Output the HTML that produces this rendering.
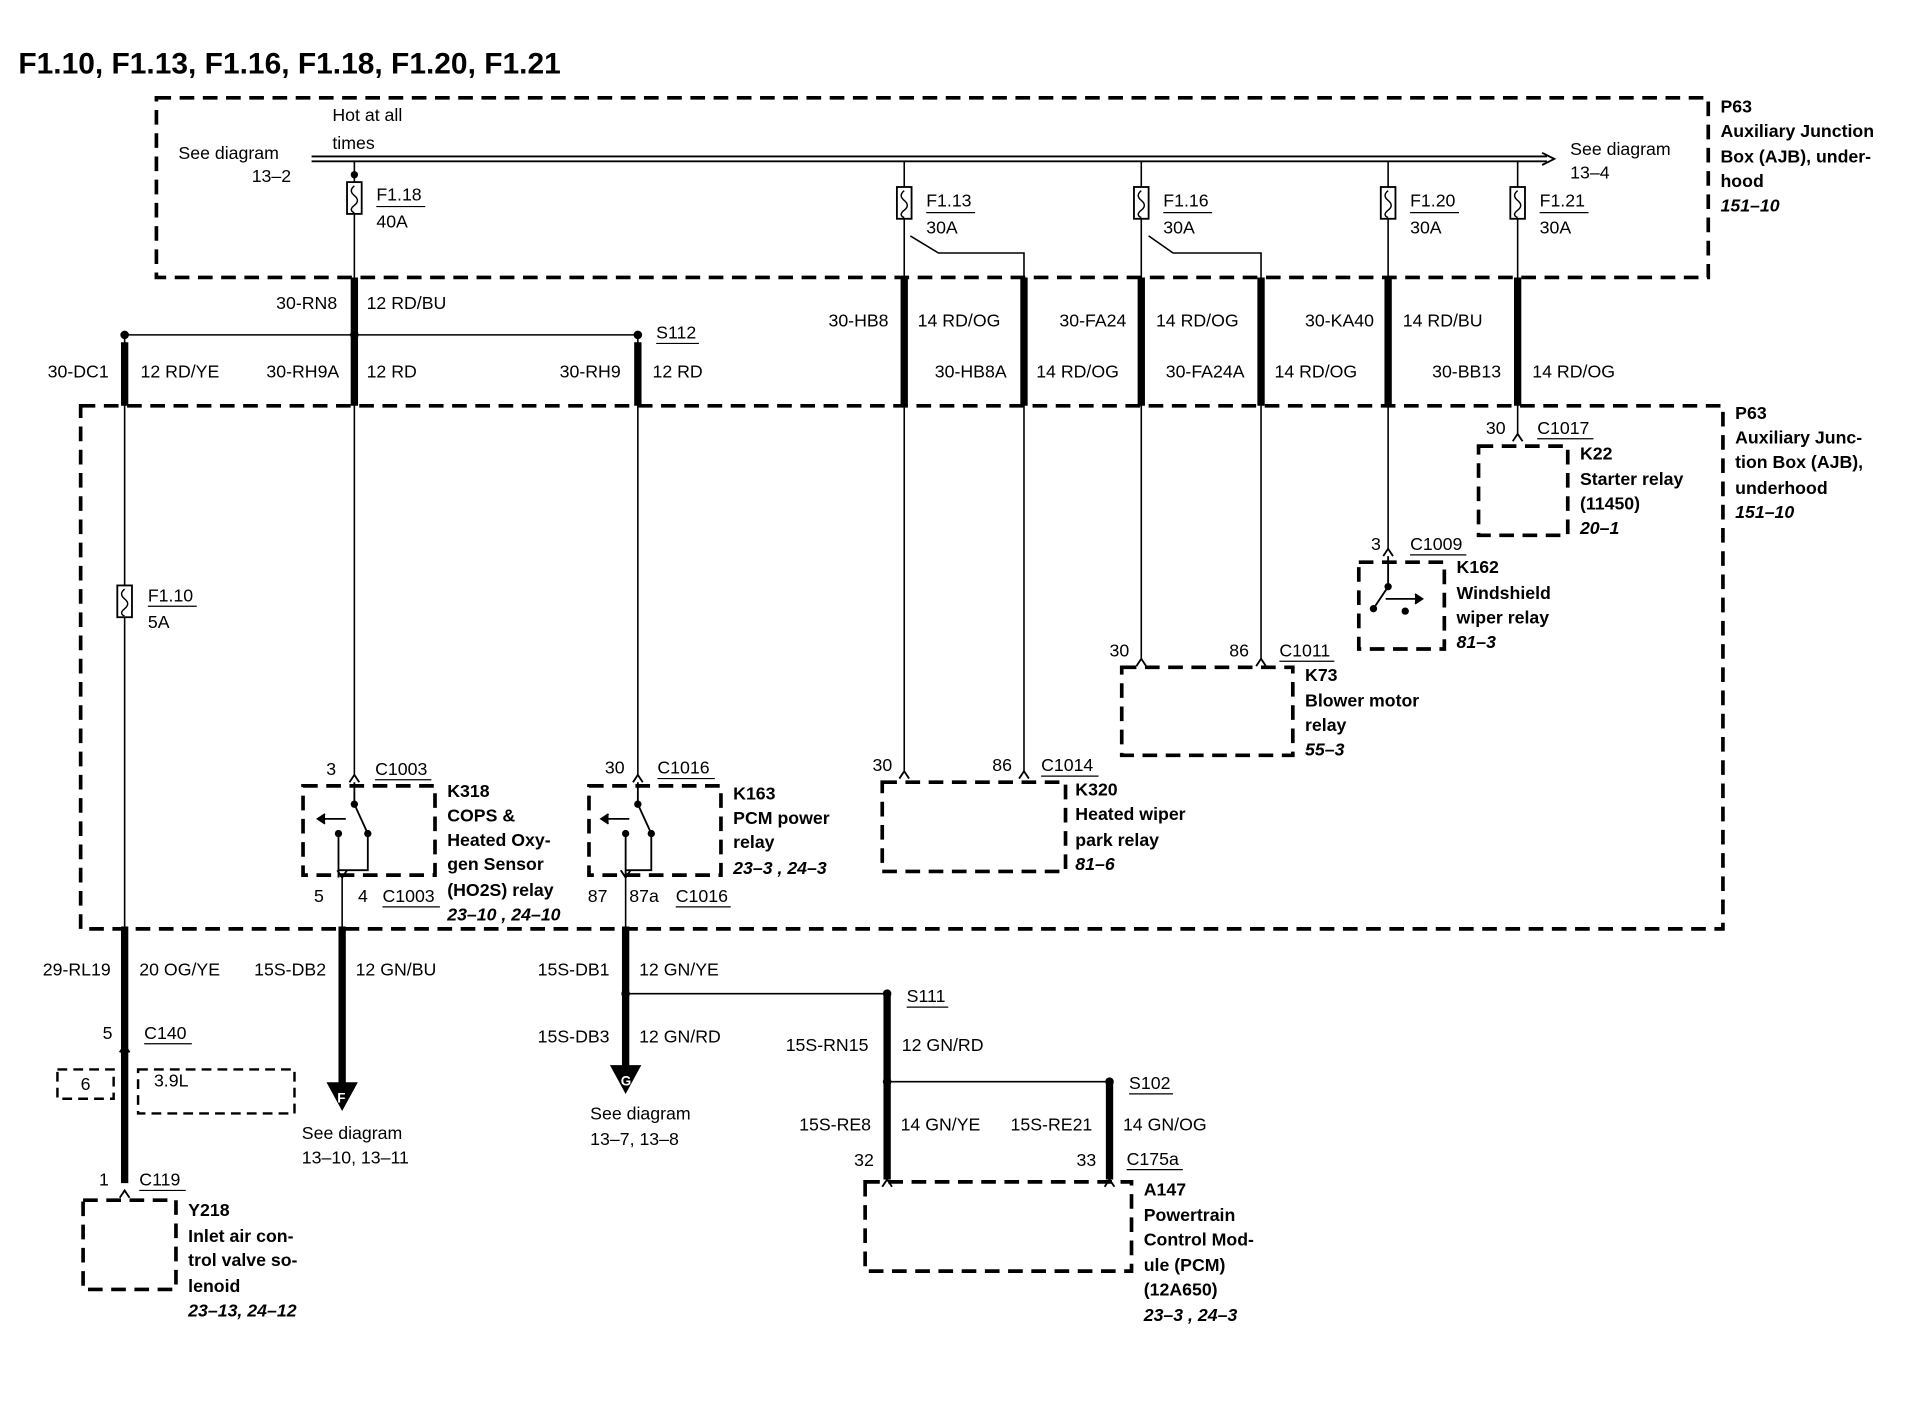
<!DOCTYPE html>
<html><head><meta charset="utf-8"><style>
html,body{margin:0;padding:0;background:#fff;}
svg{display:block;}
text{font-family:"Liberation Sans",Arial,sans-serif;font-size:14.5px;fill:#000;}
.b{font-weight:bold;}
.i{font-weight:bold;font-style:italic;}
.t{font-size:24.5px;font-weight:bold;}
</style></head><body>
<svg width="1916" height="1408" viewBox="0 0 1568 1152" preserveAspectRatio="none" xmlns="http://www.w3.org/2000/svg">
<g fill="none" stroke="#000">
<rect x="128" y="80" width="1270" height="147" stroke-width="3" stroke-dasharray="12,7"/>
<rect x="66" y="332" width="1344" height="428" stroke-width="3" stroke-dasharray="12,7"/>
<line x1="255" y1="128" x2="1266" y2="128" stroke-width="1.5"/>
<line x1="255" y1="132" x2="1266" y2="132" stroke-width="1.5"/>
<line x1="255" y1="130" x2="1266" y2="130" stroke="#fff" stroke-width="2"/>
<path d="M1262,125 L1272,130 L1262,135" stroke-width="1.5"/>
<g stroke-width="1.3">
<line x1="290" y1="132" x2="290" y2="330"/>
<line x1="740" y1="132" x2="740" y2="632"/>
<line x1="934" y1="132" x2="934" y2="540"/>
<line x1="1136" y1="132" x2="1136" y2="450"/>
<line x1="1242" y1="132" x2="1242" y2="356"/>
<path d="M745,193 L768,207 L838,207 L838,632"/>
<path d="M940,193 L960,207 L1032,207 L1032,540"/>
<line x1="102" y1="274" x2="522" y2="274"/>
<line x1="102" y1="274" x2="102" y2="760"/>
<line x1="290" y1="274" x2="290" y2="635"/>
<line x1="522" y1="274" x2="522" y2="635"/>
</g>
<g stroke-width="1.5" fill="#fff">
<rect x="284" y="149" width="12" height="26"/>
<rect x="734" y="153" width="12" height="26"/>
<rect x="928" y="153" width="12" height="26"/>
<rect x="1130" y="153" width="12" height="26"/>
<rect x="1236" y="153" width="12" height="26"/>
<rect x="96" y="479" width="12" height="26"/>
</g>
<g stroke-width="1.2">
<path d="M290,152 q-5,4 0,8 q5,4 0,8 q-5,4 0,6"/>
<path d="M740,156 q-5,4 0,8 q5,4 0,8 q-5,4 0,6"/>
<path d="M934,156 q-5,4 0,8 q5,4 0,8 q-5,4 0,6"/>
<path d="M1136,156 q-5,4 0,8 q5,4 0,8 q-5,4 0,6"/>
<path d="M1242,156 q-5,4 0,8 q5,4 0,8 q-5,4 0,6"/>
<path d="M102,482 q-5,4 0,8 q5,4 0,8 q-5,4 0,6"/>
</g>
<g stroke-width="6">
<line x1="290" y1="227" x2="290" y2="332"/>
<line x1="740" y1="227" x2="740" y2="332"/>
<line x1="838" y1="227" x2="838" y2="332"/>
<line x1="934" y1="227" x2="934" y2="332"/>
<line x1="1032" y1="227" x2="1032" y2="332"/>
<line x1="1136" y1="227" x2="1136" y2="332"/>
<line x1="1242" y1="227" x2="1242" y2="332"/>
<line x1="102" y1="280" x2="102" y2="332"/>
<line x1="522" y1="280" x2="522" y2="332"/>
<line x1="102" y1="758" x2="102" y2="968"/>
<line x1="280" y1="758" x2="280" y2="888"/>
<line x1="512" y1="758" x2="512" y2="874"/>
<line x1="726" y1="813" x2="726" y2="965"/>
<line x1="908" y1="885" x2="908" y2="965"/>
</g>
<g stroke-width="1.3">
<line x1="512" y1="813" x2="726" y2="813"/>
<line x1="726" y1="885" x2="908" y2="885"/>
<line x1="280" y1="715" x2="280" y2="760"/>
<line x1="512" y1="715" x2="512" y2="760"/>
</g>
<path d="M268,886 L292,886 L280,908 Z" fill="#000"/>
<path d="M500,872 L524,872 L512,894 Z" fill="#000"/>
<g stroke-width="1.5">
<path d="M286,640 L290,634 L294,640"/>
<path d="M518,640 L522,634 L526,640"/>
<path d="M736,637 L740,631 L744,637"/>
<path d="M834,637 L838,631 L842,637"/>
<path d="M930,545 L934,539 L938,545"/>
<path d="M1028,545 L1032,539 L1036,545"/>
<path d="M1132,455 L1136,449 L1140,455"/>
<path d="M1238,361 L1242,355 L1246,361"/>
<path d="M98,861 L102,855 L106,861"/>
<path d="M98,980 L102,974 L106,980"/>
<path d="M722,971 L726,965 L730,971"/>
<path d="M904,971 L908,965 L912,971"/>
<path d="M276,712 L280,718 L284,712"/>
<path d="M508,712 L512,718 L516,712"/>
</g>
<g stroke-width="3" stroke-dasharray="12,7">
<rect x="248" y="643" width="108" height="73"/>
<rect x="482" y="643" width="108" height="73"/>
<rect x="722" y="640" width="150" height="73"/>
<rect x="918" y="546" width="140" height="72"/>
<rect x="1112" y="460" width="70" height="71"/>
<rect x="1210" y="365" width="73" height="73"/>
<rect x="68" y="982" width="76" height="73"/>
<rect x="708" y="967" width="218" height="73"/>
<rect x="47" y="875" width="46" height="24" stroke-width="2" stroke-dasharray="8,5"/>
<rect x="113" y="875" width="128" height="36" stroke-width="2" stroke-dasharray="8,5"/>
</g>
<g stroke-width="1.5">
<path d="M290,640 L290,658 L301,682 L301,712 L277,712"/>
<path d="M277,682 L277,718"/>
<path d="M283,670 L262,670"/><path d="M266,666 L260,670 L266,674" fill="#000"/>
<path d="M522,640 L522,658 L533,682 L533,712 L512,712"/>
<path d="M512,682 L512,718"/>
<path d="M515,670 L494,670"/><path d="M498,666 L492,670 L498,674" fill="#000"/>
<path d="M1136,455 L1136,480 L1124,498"/>
<path d="M1134,490 L1162,490"/><path d="M1158,486 L1164,490 L1158,494" fill="#000"/>
</g>
<g fill="#000" stroke="none">
<circle cx="102" cy="274" r="3.5"/><circle cx="290" cy="274" r="3.5"/><circle cx="522" cy="274" r="3.5"/>
<circle cx="290" cy="143" r="3"/>
<circle cx="512" cy="813" r="3.5"/><circle cx="726" cy="813" r="3.5"/>
<circle cx="726" cy="885" r="3.5"/><circle cx="908" cy="885" r="3.5"/>
<circle cx="290" cy="658" r="3"/><circle cx="301" cy="682" r="3"/><circle cx="277" cy="682" r="3"/>
<circle cx="522" cy="658" r="3"/><circle cx="533" cy="682" r="3"/><circle cx="512" cy="682" r="3"/>
<circle cx="1136" cy="480" r="3"/><circle cx="1124" cy="498" r="3"/><circle cx="1150" cy="500" r="3"/>
</g>
<g stroke-width="1">
<line x1="308" y1="169" x2="348" y2="169"/>
<line x1="758" y1="174" x2="798" y2="174"/>
<line x1="952" y1="174" x2="992" y2="174"/>
<line x1="1154" y1="174" x2="1194" y2="174"/>
<line x1="1260" y1="174" x2="1300" y2="174"/>
<line x1="121" y1="496" x2="161" y2="496"/>
<line x1="537" y1="281" x2="572" y2="281"/>
<line x1="742" y1="824" x2="776" y2="824"/>
<line x1="924" y1="895" x2="960" y2="895"/>
<line x1="307" y1="638" x2="353" y2="638"/>
<line x1="538" y1="637" x2="585" y2="637"/>
<line x1="852" y1="635" x2="899" y2="635"/>
<line x1="1047" y1="541" x2="1092" y2="541"/>
<line x1="1154" y1="454" x2="1200" y2="454"/>
<line x1="1258" y1="359" x2="1304" y2="359"/>
<line x1="313" y1="742" x2="360" y2="742"/>
<line x1="553" y1="742" x2="598" y2="742"/>
<line x1="118" y1="854" x2="157" y2="854"/>
<line x1="114" y1="974" x2="152" y2="974"/>
<line x1="922" y1="957" x2="968" y2="957"/>
</g>
</g>
<text x="15" y="60" class="t">F1.10, F1.13, F1.16, F1.18, F1.20, F1.21</text>
<text x="272" y="99">Hot at all</text><text x="272" y="122">times</text>
<text x="146" y="130">See diagram</text><text x="206" y="149">13–2</text>
<text x="1285" y="127">See diagram</text><text x="1285" y="146">13–4</text>
<text x="1408" y="92" class="b">P63</text><text x="1408" y="112" class="b">Auxiliary Junction</text><text x="1408" y="133" class="b">Box (AJB), under-</text><text x="1408" y="153" class="b">hood</text><text x="1408" y="173" class="i">151–10</text>
<text x="308" y="164">F1.18</text><text x="308" y="186">40A</text>
<text x="758" y="169">F1.13</text><text x="758" y="191">30A</text>
<text x="952" y="169">F1.16</text><text x="952" y="191">30A</text>
<text x="1154" y="169">F1.20</text><text x="1154" y="191">30A</text>
<text x="1260" y="169">F1.21</text><text x="1260" y="191">30A</text>
<text x="226" y="253">30-RN8</text><text x="300" y="253">12 RD/BU</text>
<text x="678" y="267">30-HB8</text><text x="751" y="267">14 RD/OG</text>
<text x="867" y="267">30-FA24</text><text x="946" y="267">14 RD/OG</text>
<text x="1068" y="267">30-KA40</text><text x="1148" y="267">14 RD/BU</text>
<text x="537" y="277">S112</text>
<text x="39" y="309">30-DC1</text><text x="115" y="309">12 RD/YE</text>
<text x="218" y="309">30-RH9A</text><text x="300" y="309">12 RD</text>
<text x="458" y="309">30-RH9</text><text x="534" y="309">12 RD</text>
<text x="765" y="309">30-HB8A</text><text x="848" y="309">14 RD/OG</text>
<text x="954" y="309">30-FA24A</text><text x="1043" y="309">14 RD/OG</text>
<text x="1172" y="309">30-BB13</text><text x="1254" y="309">14 RD/OG</text>
<text x="1420" y="343" class="b">P63</text><text x="1420" y="363" class="b">Auxiliary Junc-</text><text x="1420" y="383" class="b">tion Box (AJB),</text><text x="1420" y="404" class="b">underhood</text><text x="1420" y="424" class="i">151–10</text>
<text x="1216" y="355">30</text><text x="1258" y="355">C1017</text>
<text x="1293" y="376" class="b">K22</text><text x="1293" y="397" class="b">Starter relay</text><text x="1293" y="417" class="b">(11450)</text><text x="1293" y="437" class="i">20–1</text>
<text x="1122" y="450">3</text><text x="1154" y="450">C1009</text>
<text x="1192" y="469" class="b">K162</text><text x="1192" y="490" class="b">Windshield</text><text x="1192" y="510" class="b">wiper relay</text><text x="1192" y="530" class="i">81–3</text>
<text x="121" y="492">F1.10</text><text x="121" y="514">5A</text>
<text x="908" y="537">30</text><text x="1006" y="537">86</text><text x="1047" y="537">C1011</text>
<text x="1068" y="557" class="b">K73</text><text x="1068" y="578" class="b">Blower motor</text><text x="1068" y="598" class="b">relay</text><text x="1068" y="618" class="i">55–3</text>
<text x="714" y="631">30</text><text x="812" y="631">86</text><text x="852" y="631">C1014</text>
<text x="880" y="651" class="b">K320</text><text x="880" y="671" class="b">Heated wiper</text><text x="880" y="692" class="b">park relay</text><text x="880" y="712" class="i">81–6</text>
<text x="267" y="634">3</text><text x="307" y="634">C1003</text>
<text x="366" y="652" class="b">K318</text><text x="366" y="672" class="b">COPS &amp;</text><text x="366" y="692" class="b">Heated Oxy-</text><text x="366" y="712" class="b">gen Sensor</text><text x="366" y="733" class="b">(HO2S) relay</text><text x="366" y="753" class="i">23–10 , 24–10</text>
<text x="257" y="738">5</text><text x="293" y="738">4</text><text x="313" y="738">C1003</text>
<text x="495" y="633">30</text><text x="538" y="633">C1016</text>
<text x="600" y="654" class="b">K163</text><text x="600" y="674" class="b">PCM power</text><text x="600" y="694" class="b">relay</text><text x="600" y="715" class="i">23–3 , 24–3</text>
<text x="481" y="738">87</text><text x="515" y="738">87a</text><text x="553" y="738">C1016</text>
<text x="35" y="798">29-RL19</text><text x="114" y="798">20 OG/YE</text>
<text x="208" y="798">15S-DB2</text><text x="291" y="798">12 GN/BU</text>
<text x="440" y="798">15S-DB1</text><text x="523" y="798">12 GN/YE</text>
<text x="742" y="820">S111</text>
<text x="84" y="850">5</text><text x="118" y="850">C140</text>
<text x="440" y="853">15S-DB3</text><text x="523" y="853">12 GN/RD</text>
<text x="643" y="860">15S-RN15</text><text x="738" y="860">12 GN/RD</text>
<text x="66" y="892">6</text><text x="126" y="889">3.9L</text>
<text x="924" y="891">S102</text>
<text x="247" y="932">See diagram</text><text x="247" y="952">13–10, 13–11</text>
<text x="483" y="916">See diagram</text><text x="483" y="937">13–7, 13–8</text>
<text x="654" y="925">15S-RE8</text><text x="737" y="925">14 GN/YE</text>
<text x="827" y="925">15S-RE21</text><text x="919" y="925">14 GN/OG</text>
<text x="699" y="954">32</text><text x="881" y="954">33</text><text x="922" y="953">C175a</text>
<text x="936" y="978" class="b">A147</text><text x="936" y="999" class="b">Powertrain</text><text x="936" y="1019" class="b">Control Mod-</text><text x="936" y="1040" class="b">ule (PCM)</text><text x="936" y="1060" class="b">(12A650)</text><text x="936" y="1081" class="i">23–3 , 24–3</text>
<text x="81" y="970">1</text><text x="114" y="970">C119</text>
<text x="154" y="995" class="b">Y218</text><text x="154" y="1016" class="b">Inlet air con-</text><text x="154" y="1036" class="b">trol valve so-</text><text x="154" y="1057" class="b">lenoid</text><text x="154" y="1077" class="i">23–13, 24–12</text>
<text x="276" y="902" style="font-size:11px;fill:#fff;font-weight:bold">F</text>
<text x="508" y="888" style="font-size:11px;fill:#fff;font-weight:bold">G</text>
</svg>
</body></html>
